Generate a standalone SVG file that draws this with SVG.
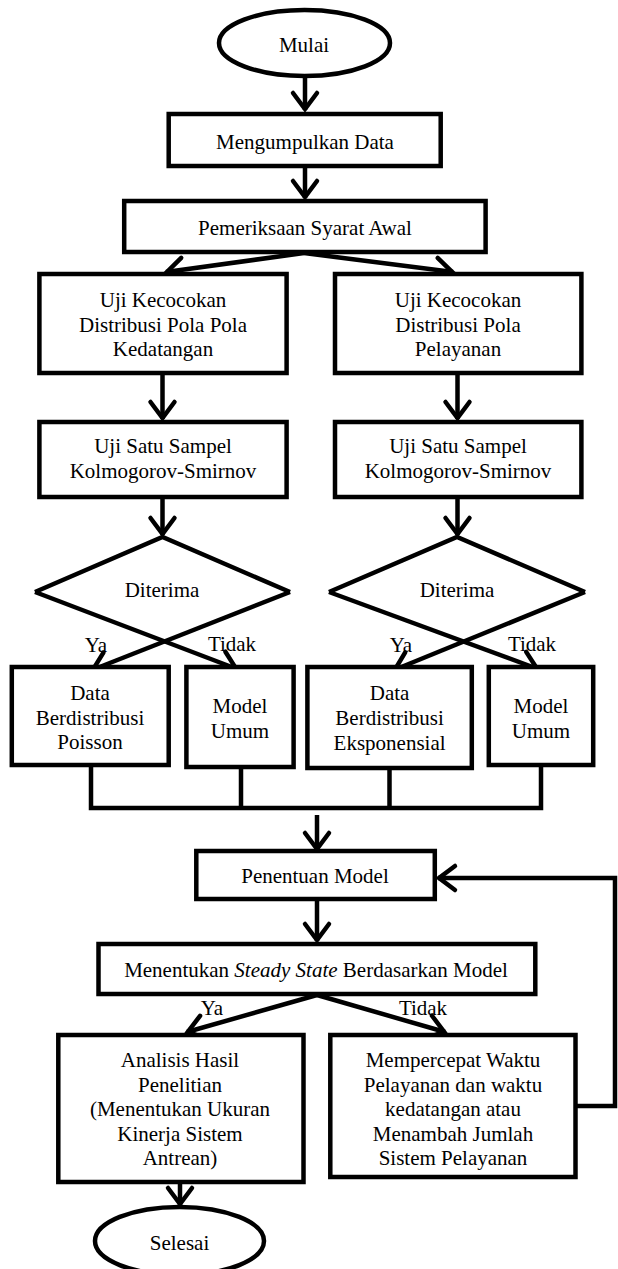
<svg xmlns="http://www.w3.org/2000/svg" width="618" height="1269" viewBox="0 0 618 1269">
<style>
.b{fill:#fff;stroke:#000;stroke-width:4.5;stroke-linejoin:miter}
.t{font-family:"Liberation Serif","Times New Roman",serif;font-size:21px;fill:#000;text-anchor:middle}
.c{fill:none;stroke:#000;stroke-width:4.5}
</style>
<defs>
<marker id="ah" markerUnits="userSpaceOnUse" markerWidth="40" markerHeight="40" refX="0" refY="0" orient="auto" overflow="visible" viewBox="-25 -20 30 40">
<path d="M-17,-12 L-1,0 L-17,12" fill="none" stroke="#000" stroke-width="4.5" stroke-linecap="round"/>
</marker>
</defs>
<g id="connectors">
<path class="c" d="M305,76 V110" marker-end="url(#ah)"/>
<path class="c" d="M305,166 V198" marker-end="url(#ah)"/>
<path class="c" d="M304,253 L166,272" marker-end="url(#ah)"/>
<path class="c" d="M304,253 L453,272" marker-end="url(#ah)"/>
<path class="c" d="M162.5,373 V419" marker-end="url(#ah)"/>
<path class="c" d="M457.5,373 V419" marker-end="url(#ah)"/>
<path class="c" d="M162.5,497 V535" marker-end="url(#ah)"/>
<path class="c" d="M457.5,497 V535" marker-end="url(#ah)"/>
<path class="c" d="M290,592 L92,670" marker-end="url(#ah)"/>
<path class="c" d="M35,592 L237,669" marker-end="url(#ah)"/>
<path class="c" d="M585,592 L394,670" marker-end="url(#ah)"/>
<path class="c" d="M329,592 L538,669" marker-end="url(#ah)"/>
<path class="c" style="stroke-linecap:square" d="M91,767 V808 M241,769 V808 M389.5,770 V808 M541,767 V808 M91,808 H541"/>
<path class="c" d="M317,815 V850" marker-end="url(#ah)"/>
<path class="c" d="M317,899 V941" marker-end="url(#ah)"/>
<path class="c" d="M317,995 L187,1032" marker-end="url(#ah)"/>
<path class="c" d="M317,995 L445,1032" marker-end="url(#ah)"/>
<path class="c" d="M180,1182 V1205" marker-end="url(#ah)"/>
<path class="c" d="M575,1106 H615 V878 H438" marker-end="url(#ah)"/>
<text class="t" x="96" y="652">Ya</text>
<text class="t" x="232" y="651">Tidak</text>
<text class="t" x="401" y="652">Ya</text>
<text class="t" x="532" y="651">Tidak</text>
<text class="t" x="212" y="1015">Ya</text>
<text class="t" x="423" y="1015">Tidak</text>
</g>
<g id="mulai">
<ellipse class="b" cx="304.5" cy="43" rx="85.5" ry="33"/>
<text class="t" x="304" y="52">Mulai</text>
</g>
<g id="mengumpulkan">
<rect class="b" x="168.7" y="114" width="272" height="52"/>
<text class="t" x="305" y="149">Mengumpulkan Data</text>
</g>
<g id="pemeriksaan">
<rect class="b" x="124.2" y="201" width="361.4" height="51"/>
<text class="t" x="305" y="235">Pemeriksaan Syarat Awal</text>
</g>
<g id="uji-kedatangan">
<rect class="b" x="39.4" y="274" width="247.2" height="99"/>
<text class="t" y="307"><tspan x="163">Uji Kecocokan</tspan><tspan x="163" dy="24.5">Distribusi Pola Pola</tspan><tspan x="163" dy="24.5">Kedatangan</tspan></text>
</g>
<g id="uji-pelayanan">
<rect class="b" x="335" y="274" width="246.4" height="99"/>
<text class="t" y="307"><tspan x="458">Uji Kecocokan</tspan><tspan x="458" dy="24.5">Distribusi Pola</tspan><tspan x="458" dy="24.5">Pelayanan</tspan></text>
</g>
<g id="ks-kiri">
<rect class="b" x="39.4" y="422" width="247.2" height="75"/>
<text class="t" y="453"><tspan x="163">Uji Satu Sampel</tspan><tspan x="163" dy="24.5">Kolmogorov-Smirnov</tspan></text>
</g>
<g id="ks-kanan">
<rect class="b" x="335" y="422" width="246.4" height="75"/>
<text class="t" y="453"><tspan x="458">Uji Satu Sampel</tspan><tspan x="458" dy="24.5">Kolmogorov-Smirnov</tspan></text>
</g>
<g id="diterima-kiri">
<path class="c" d="M35,592 L162.5,537 L290,592"/>
<text class="t" x="162" y="597">Diterima</text>
</g>
<g id="diterima-kanan">
<path class="c" d="M329,592 L457,537 L585,592"/>
<text class="t" x="457" y="597">Diterima</text>
</g>
<g id="poisson">
<rect class="b" x="11.8" y="667" width="156.9" height="98"/>
<text class="t" y="700"><tspan x="90">Data</tspan><tspan x="90" dy="24.5">Berdistribusi</tspan><tspan x="90" dy="24">Poisson</tspan></text>
</g>
<g id="umum-kiri">
<rect class="b" x="186.4" y="667" width="107.2" height="100"/>
<text class="t" y="713"><tspan x="240">Model</tspan><tspan x="240" dy="24.5">Umum</tspan></text>
</g>
<g id="eksponensial">
<rect class="b" x="307.4" y="667" width="164.4" height="101"/>
<text class="t" y="700"><tspan x="389.6">Data</tspan><tspan x="389.6" dy="24.5">Berdistribusi</tspan><tspan x="389.6" dy="25">Eksponensial</tspan></text>
</g>
<g id="umum-kanan">
<rect class="b" x="488.8" y="667" width="104.4" height="98"/>
<text class="t" y="713"><tspan x="541">Model</tspan><tspan x="541" dy="24.5">Umum</tspan></text>
</g>
<g id="penentuan">
<rect class="b" x="196.3" y="851" width="238.5" height="48"/>
<text class="t" x="315" y="883">Penentuan Model</text>
</g>
<g id="steady">
<rect class="b" x="98.5" y="944" width="436.8" height="50"/>
<text class="t" x="316" y="977">Menentukan <tspan font-style="italic">Steady State</tspan> Berdasarkan Model</text>
</g>
<g id="analisis">
<rect class="b" x="58.3" y="1035" width="245.2" height="147"/>
<text class="t" y="1067"><tspan x="180">Analisis Hasil</tspan><tspan x="180" dy="24.5">Penelitian</tspan><tspan x="180" dy="24.5">(Menentukan Ukuran</tspan><tspan x="180" dy="24.5">Kinerja Sistem</tspan><tspan x="180" dy="24.5">Antrean)</tspan></text>
</g>
<g id="mempercepat">
<rect class="b" x="330.3" y="1035" width="245.2" height="142"/>
<text class="t" y="1067"><tspan x="453">Mempercepat Waktu</tspan><tspan x="453" dy="24.5">Pelayanan dan waktu</tspan><tspan x="453" dy="24.5">kedatangan atau</tspan><tspan x="453" dy="24.5">Menambah Jumlah</tspan><tspan x="453" dy="24.5">Sistem Pelayanan</tspan></text>
</g>
<g id="selesai">
<ellipse class="b" cx="179.5" cy="1241" rx="84.5" ry="34"/>
<text class="t" x="179.5" y="1250">Selesai</text>
</g>
</svg>
